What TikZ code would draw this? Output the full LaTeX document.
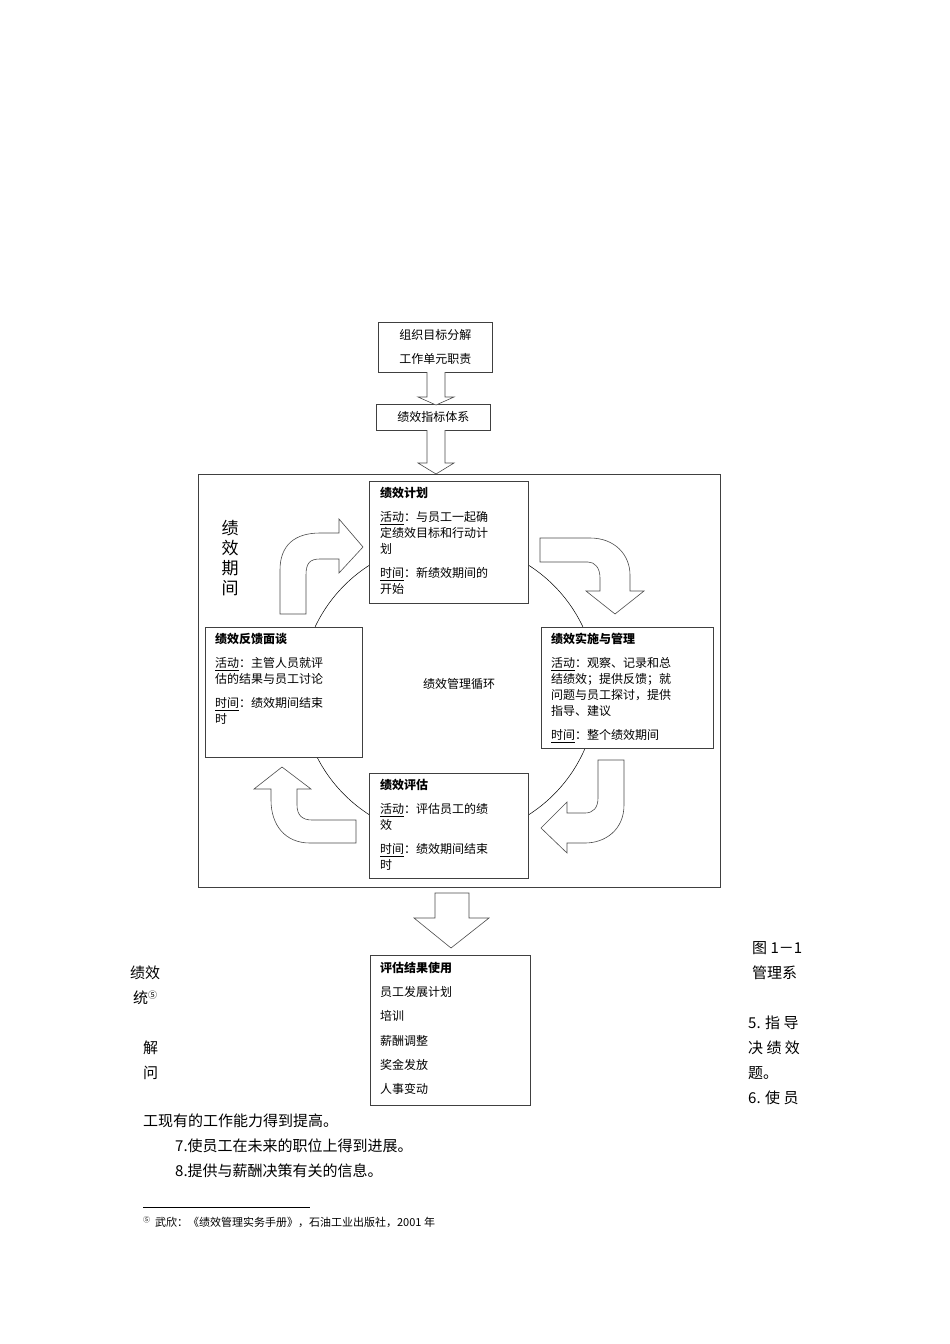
\documentclass[tikz,border=0pt]{standalone}
\usepackage{fontspec}
\setmainfont{Noto Sans CJK SC}
\begin{document}
\begin{tikzpicture}[x=1pt,y=-1pt,
  box/.style={draw=black!75,line width=0.8pt,fill=white},
  harrow/.style={draw=black!70,line width=0.6pt,fill=white},
  btxt/.style={anchor=north west,align=left,inner sep=0pt,font=\fontsize{12}{16}\selectfont},
  body/.style={anchor=west,inner sep=0pt,font=\fontsize{15}{18}\selectfont}]
\useasboundingbox (0,0) rectangle (950,1344);
% top boxes
\node[box,minimum width=114pt,minimum height=50pt,anchor=north west,align=center,font=\fontsize{12}{24}\selectfont] (org) at (378,322) {组织目标分解\\工作单元职责};
\node[box,minimum width=114pt,minimum height=26pt,anchor=north west,font=\fontsize{12}{14}\selectfont] (idx) at (376,404) {绩效指标体系};
\draw[harrow] (427,372) -- (427,397) -- (418,397) -- (436,405) -- (454,397) -- (445,397) -- (445,372);
\draw[harrow] (427,430) -- (427,463) -- (418,463) -- (436,474) -- (454,463) -- (445,463) -- (445,430);
% frame
\draw[line width=0.8pt,draw=black!75] (198,474) rectangle (720,887);
\node[anchor=north,align=center,font=\fontsize{17}{20}\selectfont] (per) at (230,517) {绩\\效\\期\\间};
% cycle circle
\draw[line width=0.5pt] (449,690) circle (148);
\node[font=\fontsize{12}{14}\selectfont] (cyc) at (459,684) {绩效管理循环};
% curved arrows
\draw[harrow] (280,614) -- (280,570) .. controls (280,545) and (295,533) .. (320,533) -- (339,533) -- (339,519) -- (363,547) -- (339,573) -- (339,559) -- (320,559) .. controls (310,559) and (306,563) .. (306,575) -- (306,614) -- cycle;
\draw[harrow] (540,538) -- (590,538) .. controls (615,538) and (630,555) .. (630,575) -- (630,591) -- (644,591) -- (615,614) -- (586,591) -- (600,591) -- (600,578) .. controls (600,568) and (595,562) .. (588,562) -- (540,562) -- cycle;
\draw[harrow] (598,760) -- (624,760) -- (624,805) .. controls (624,830) and (605,843) .. (585,843) -- (567,843) -- (567,853) -- (541,828) -- (567,802) -- (567,813) -- (585,813) .. controls (593,813) and (598,808) .. (598,798) -- cycle;
\draw[harrow] (356,843) -- (310,843) .. controls (285,843) and (271,825) .. (271,800) -- (271,789) -- (254,789) -- (282,767) -- (311,789) -- (297,789) -- (297,805) .. controls (297,815) and (302,820) .. (312,820) -- (356,820) -- cycle;
% cycle boxes
\draw[box] (369,481) rectangle (528,603);
\node[btxt] (plan) at (380,487) {\textbf{绩效计划}\\[8pt]\underline{活动}：与员工一起确\\定绩效目标和行动计\\划\\[8pt]\underline{时间}：新绩效期间的\\开始};
\draw[box] (541,627) rectangle (713,748);
\node[btxt] (impl) at (551,633) {\textbf{绩效实施与管理}\\[8pt]\underline{活动}：观察、记录和总\\结绩效；提供反馈；就\\问题与员工探讨，提供\\指导、建议\\[8pt]\underline{时间}：整个绩效期间};
\draw[box] (369,773) rectangle (528,878);
\node[btxt] (eval) at (380,779) {\textbf{绩效评估}\\[8pt]\underline{活动}：评估员工的绩\\效\\[8pt]\underline{时间}：绩效期间结束\\时};
\draw[box] (205,627) rectangle (362,757);
\node[btxt] (fb) at (215,633) {\textbf{绩效反馈面谈}\\[8pt]\underline{活动}：主管人员就评\\估的结果与员工讨论\\[8pt]\underline{时间}：绩效期间结束\\时};
% bottom arrow and box
\draw[harrow] (435,893) -- (435,918) -- (414,918) -- (451,948) -- (489,918) -- (469,918) -- (469,893) -- cycle;
\draw[box] (370,955) rectangle (530,1105);
\node[btxt,font=\fontsize{12}{24.2}\selectfont] (use) at (380,962) {\textbf{评估结果使用}\\员工发展计划\\培训\\薪酬调整\\奖金发放\\人事变动};
% surrounding body text
\node[body] (t1) at (752,948) {图 1－1};
\node[body] (t2) at (752,973) {管理系};
\node[body] (t3) at (748,1023) {5. 指 导};
\node[body] (t4) at (748,1048) {决 绩 效};
\node[body] (t5) at (748,1073) {题。};
\node[body] (t6) at (748,1098) {6. 使 员};
\node[body] (l1) at (130,973) {绩效};
\node[body] (l2) at (133,998) {统{\fontsize{9}{9}\selectfont\raisebox{5pt}{⑤}}};
\node[body] (l3) at (143,1048) {解};
\node[body] (l4) at (143,1073) {问};
\node[body] (b1) at (143,1121) {工现有的工作能力得到提高。};
\node[body] (b2) at (175,1146) {7.使员工在未来的职位上得到进展。};
\node[body] (b3) at (175,1171) {8.提供与薪酬决策有关的信息。};
\draw[line width=0.6pt] (143,1207) -- (310,1207);
\node[body,font=\fontsize{11}{13}\selectfont] (fn) at (143,1222) {{\fontsize{7}{7}\selectfont\raisebox{4pt}{⑤}}\ \ 武欣：《绩效管理实务手册》，石油工业出版社，2001 年};
\end{tikzpicture}
\end{document}
